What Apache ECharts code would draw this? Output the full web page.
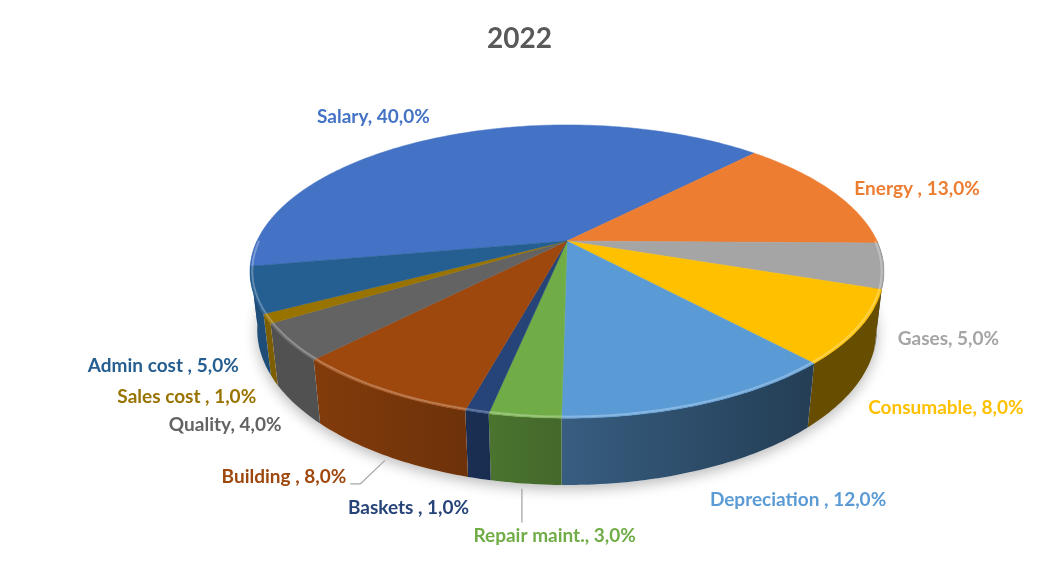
<!DOCTYPE html>
<html>
<head>
<meta charset="utf-8">
<script src="https://cdn.jsdelivr.net/npm/echarts@6/dist/echarts.min.js"></script>
<style>
html,body{margin:0;padding:0;background:#fff;}
#chart{width:1039px;height:581px;}
</style>
</head>
<body>
<div id="chart"></div>
<script>
// ---- data ----
const categories = ['Salary', 'Energy ', 'Gases', 'Consumable', 'Depreciation ', 'Repair maint.', 'Baskets ', 'Building ', 'Quality', 'Sales cost ', 'Admin cost '];
const values = [40, 13, 5, 8, 12, 3, 1, 8, 4, 1, 5];
const palette = ['#4472C4', '#ED7D31', '#A5A5A5', '#FFC000', '#5B9BD5', '#70AD47', '#264478', '#9E480E', '#636363', '#997300', '#255E91'];
const titleText = '2022';

// ---- 3D pie geometry (perspective projection of a flat cylinder) ----
const GEO = { cx: 567, cy: 241, f: 1327, D: 4.28, tilt: 26.9, depth: 0.211, start: -100, labelR: 1.1 };
// label adjustments (relative offsets, like Excel's best-fit placement)
const labelTweak = {
  'Salary':        { dx: -4,  dy: -11 },
  'Energy ':       { dx: -2,  dy: 2 },
  'Gases':         { dx: -11, dy: 12 },
  'Consumable':    { dx: -17, dy: 8 },
  'Depreciation ': { dx: -7,  dy: 8 },
  'Repair maint.': { dx: 34,  dy: 28, align: 'center', leader: 'down' },
  'Baskets ':      { dx: 1,   dy: 6 },
  'Building ':     { dx: -16, dy: 2, leader: 'elbow' },
  'Quality':       { dx: 17,  dy: 7 },
  'Sales cost ':   { dx: 15,  dy: 7 },
  'Admin cost ':   { dx: 12,  dy: 10 }
};
const FONT = 'Lato, "Liberation Sans", sans-serif';

const DEG = Math.PI / 180;
const total = values.reduce((a, b) => a + b, 0);
const starts = [];
(function () { let a = GEO.start; values.forEach(v => { starts.push(a); a += v / total * 360; }); })();

function proj(phi, r, h) {
  const p = phi * DEG;
  const X = r * Math.sin(p), Z = r * Math.cos(p), Y = h;
  const ca = Math.cos(GEO.tilt * DEG), sa = Math.sin(GEO.tilt * DEG);
  const yc = Y * ca + Z * sa;
  const zc = Z * ca - Y * sa + GEO.D;
  return [GEO.cx + GEO.f * X / zc, GEO.cy - GEO.f * yc / zc];
}
function rim(a0, a1, r, h) {
  const n = Math.max(2, Math.ceil(Math.abs(a1 - a0)));
  const pts = [];
  for (let k = 0; k <= n; k++) pts.push(proj(a0 + (a1 - a0) * k / n, r, h));
  return pts;
}
function hexToRgb(h) { const n = parseInt(h.slice(1), 16); return [(n >> 16) & 255, (n >> 8) & 255, n & 255]; }
function shade(hex, k) { const c = hexToRgb(hex).map(v => Math.round(v * k)); return 'rgb(' + c.join(',') + ')'; }
function tint(hex, k) { const c = hexToRgb(hex).map(v => Math.round(v + (255 - v) * k)); return 'rgb(' + c.join(',') + ')'; }
function wallLight(phi) { // side lighting: darker on the right, lighter on the left
  if (phi <= 150) return 0.40;
  if (phi >= 215) return 0.82;
  return 0.40 + 0.42 * (phi - 150) / 65;
}
function pctText(v) { return (v / total * 100).toFixed(1).replace('.', ',') + '%'; }

function renderItem(params, api) {
  const i = params.dataIndex;
  const a0 = starts[i], a1 = a0 + values[i] / total * 360;
  const color = palette[i];
  const T = GEO.depth;
  const children = [];

  if (i === 0) {
    // soft shadow under the pie
    const base = rim(0, 360, 1.0, -T);
    children.push({ type: 'polygon', z2: 0, shape: { points: base },
      style: { fill: '#ffffff', shadowBlur: 14, shadowColor: 'rgba(0,0,0,0.28)', shadowOffsetY: 4 } });
  }

  // outer wall (front half only)
  [-360, 0, 360].forEach(sh => {
    const w0 = Math.max(a0 + sh, 90), w1 = Math.min(a1 + sh, 270);
    if (w1 > w0) {
      const top = rim(w0, w1, 1, 0);
      const bot = rim(w1, w0, 1, -T);
      children.push({ type: 'polygon', z2: 5, shape: { points: top.concat(bot) },
        style: { fill: new echarts.graphic.LinearGradient(0, 0, 1, 0, [
          { offset: 0, color: shade(color, wallLight(w1)) },
          { offset: 1, color: shade(color, wallLight(w0)) }]) } });
      // bevel highlight along the top rim
      children.push({ type: 'polyline', z2: 12, shape: { points: rim(w0, w1, 0.993, 0) },
        style: { stroke: tint(color, 0.35), lineWidth: 2, opacity: 0.8, fill: null } });
    }
  });

  // top face
  const topPts = [[GEO.cx, GEO.cy]].concat(rim(a0, a1, 1, 0));
  children.push({ type: 'polygon', z2: 10, shape: { points: topPts },
    style: { fill: color, stroke: color, lineWidth: 0.5 } });

  // label
  const mid = (a0 + a1) / 2;
  const front = Math.cos(mid * DEG) < 0;
  const anchor = proj(mid, GEO.labelR, front ? -T : 0);
  const tw = labelTweak[categories[i]] || { dx: 0, dy: 0 };
  const align = tw.align || (anchor[0] < GEO.cx ? 'right' : 'left');
  const lx = anchor[0] + tw.dx, ly = anchor[1] + tw.dy;
  children.push({ type: 'text', z2: 30, x: lx, y: ly,
    style: { text: categories[i] + ', ' + pctText(values[i]), fill: color,
      font: 'bold 19px ' + FONT, align: align, verticalAlign: 'middle' } });

  if (tw.leader === 'down') {
    const rp = proj(mid, 1, -T);
    children.push({ type: 'polyline', z2: 25, shape: { points: [[rp[0] - 4, rp[1] + 5], [rp[0] - 4, ly - 13]] },
      style: { stroke: '#A6A6A6', lineWidth: 1.3, fill: null } });
  } else if (tw.leader === 'elbow') {
    const rp = proj(mid, 1.0, -T);
    children.push({ type: 'polyline', z2: 25, shape: { points: [[rp[0], rp[1] + 5], [lx + 14, ly + 7], [lx + 4, ly + 7]] },
      style: { stroke: '#A6A6A6', lineWidth: 1.3, fill: null } });
  }

  return { type: 'group', children: children };
}

const chart = echarts.init(document.getElementById('chart'), null, { renderer: 'canvas' });
chart.setOption({
  backgroundColor: '#ffffff',
  animation: false,
  title: { text: titleText, left: 'center', top: 20,
    textStyle: { fontFamily: FONT, fontSize: 28, fontWeight: 'bold', color: '#595959' } },
  series: [{
    type: 'custom',
    coordinateSystem: 'none',
    renderItem: renderItem,
    data: values.map((v, i) => [v, i])
  }]
});
</script>
</body>
</html>
